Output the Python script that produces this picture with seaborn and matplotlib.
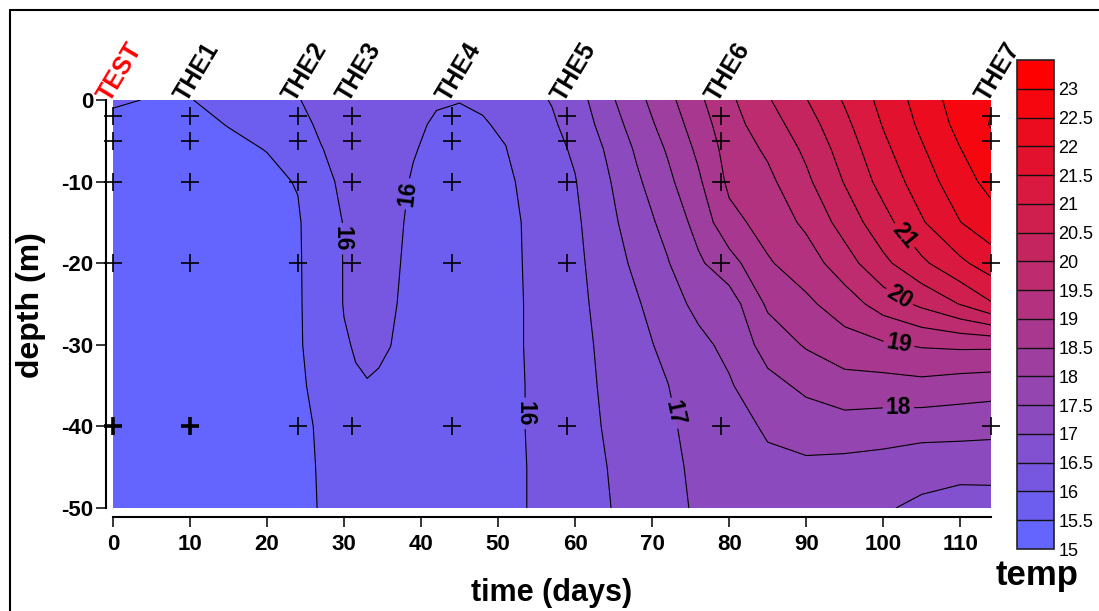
import numpy as np
import pandas as pd
import matplotlib
matplotlib.use("Agg")
import matplotlib.pyplot as plt
import seaborn as sns
from matplotlib.colors import LinearSegmentedColormap
from matplotlib.lines import Line2D

# ---------------- data ----------------
# time axis of the gridded temperature field (days)
times = [0, 5, 10, 15, 20, 24, 27, 30, 31.5, 33, 34.5, 36, 39, 42, 45, 48, 51, 54, 57, 60,
         64, 68, 72, 76, 80, 85, 90, 95, 100, 105, 110, 114]
# depth axis (m)
depths = [0, -3, -6, -10, -15, -20, -25, -30, -35, -40, -45, -50]

# temperature at each depth (one list per depth, one value per time)
temp_d0 = [15.55, 15.48, 15.49, 15.60, 15.75, 15.97, 16.20, 16.30, 16.33, 16.35, 16.28, 16.20, 16.10, 16.03, 16.01, 16.05, 16.12, 16.40, 16.52, 16.75,
           17.35, 17.85, 18.35, 18.90, 19.40, 19.95, 20.48, 21.05, 21.65, 22.20, 22.75, 22.97]
temp_d3 = [15.40, 15.40, 15.42, 15.51, 15.63, 15.85, 16.08, 16.25, 16.28, 16.30, 16.24, 16.18, 16.06, 15.96, 15.93, 15.97, 16.06, 16.33, 16.45, 16.65,
           17.20, 17.72, 18.20, 18.75, 19.30, 19.77, 20.28, 20.88, 21.53, 22.10, 22.65, 23.03]
temp_d6 = [15.38, 15.37, 15.38, 15.43, 15.51, 15.72, 15.98, 16.18, 16.22, 16.25, 16.20, 16.15, 16.02, 15.92, 15.90, 15.93, 15.99, 16.25, 16.38, 16.56,
           17.04, 17.57, 18.05, 18.60, 19.20, 19.58, 20.10, 20.72, 21.38, 21.95, 22.49, 22.85]
temp_d10 = [15.36, 15.35, 15.35, 15.38, 15.42, 15.52, 15.85, 16.10, 16.16, 16.20, 16.16, 16.12, 15.97, 15.88, 15.87, 15.90, 15.93, 16.10, 16.30, 16.48,
            16.92, 17.42, 17.88, 18.42, 19.10, 19.38, 19.90, 20.53, 21.18, 21.75, 22.30, 22.65]
temp_d15 = [15.35, 15.34, 15.34, 15.36, 15.38, 15.46, 15.75, 16.02, 16.09, 16.15, 16.13, 16.10, 15.93, 15.85, 15.85, 15.88, 15.90, 16.05, 16.25, 16.42,
            16.82, 17.27, 17.65, 18.17, 18.85, 19.18, 19.60, 20.20, 20.82, 21.45, 21.99, 22.30]
temp_d20 = [15.35, 15.34, 15.34, 15.35, 15.37, 15.46, 15.70, 16.02, 16.08, 16.12, 16.10, 16.08, 15.90, 15.83, 15.82, 15.86, 15.90, 16.04, 16.20, 16.38,
            16.75, 17.10, 17.47, 17.92, 18.30, 18.95, 19.25, 19.78, 20.38, 20.90, 21.40, 21.75]
temp_d25 = [15.35, 15.34, 15.34, 15.35, 15.37, 15.46, 15.68, 16.02, 16.07, 16.10, 16.08, 16.05, 15.88, 15.80, 15.80, 15.85, 15.90, 16.03, 16.18, 16.35,
            16.68, 16.95, 17.30, 17.62, 17.75, 18.58, 18.90, 19.25, 19.72, 20.10, 20.52, 20.95]
temp_d30 = [15.35, 15.34, 15.34, 15.35, 15.37, 15.46, 15.65, 15.96, 16.03, 16.07, 16.04, 16.005, 15.85, 15.78, 15.78, 15.84, 15.90, 16.03, 16.16, 16.32,
            16.62, 16.88, 17.10, 17.38, 17.62, 18.20, 18.55, 18.80, 18.93, 19.05, 19.10, 19.10]
temp_d35 = [15.35, 15.34, 15.34, 15.35, 15.37, 15.44, 15.60, 15.80, 15.96, 15.985, 15.97, 15.92, 15.80, 15.75, 15.75, 15.82, 15.90, 16.02, 16.15, 16.30,
            16.58, 16.82, 16.99, 17.25, 17.45, 17.85, 18.10, 18.30, 18.30, 18.35, 18.25, 18.20]
temp_d40 = [15.35, 15.34, 15.34, 15.35, 15.37, 15.40, 15.55, 15.65, 15.72, 15.80, 15.79, 15.78, 15.75, 15.72, 15.73, 15.80, 15.90, 16.02, 16.14, 16.28,
            16.54, 16.78, 16.92, 17.17, 17.35, 17.55, 17.75, 17.80, 17.75, 17.70, 17.70, 17.68]
temp_d45 = [15.35, 15.34, 15.34, 15.35, 15.37, 15.40, 15.53, 15.60, 15.65, 15.70, 15.70, 15.70, 15.72, 15.70, 15.72, 15.78, 15.90, 16.01, 16.13, 16.27,
            16.49, 16.74, 16.86, 17.12, 17.28, 17.42, 17.40, 17.35, 17.30, 17.20, 17.15, 17.12]
temp_d50 = [15.35, 15.34, 15.34, 15.35, 15.37, 15.40, 15.52, 15.60, 15.62, 15.65, 15.66, 15.68, 15.70, 15.70, 15.72, 15.78, 15.90, 16.01, 16.12, 16.25,
            16.46, 16.70, 16.82, 17.08, 17.22, 17.35, 17.30, 17.20, 17.05, 16.90, 16.80, 16.85]

# stations and sampled depths
stations = ["TEST", "THE1", "THE2", "THE3", "THE4", "THE5", "THE6", "THE7"]
station_days = [0, 10, 24, 31, 44, 59, 79, 114]
sample_depths = [-2, -5, -10, -20, -40]
# repeated casts (drawn heavier)
repeat_station = ["TEST", "THE1"]
repeat_depth = [-40, -40]

fill_levels = [15, 15.5, 16, 16.5, 17, 17.5, 18, 18.5, 19, 19.5, 20, 20.5,
               21, 21.5, 22, 22.5, 23, 23.5]
plain_levels = [15.5, 16.5, 17.5, 18.5, 19.5, 20.5, 21.5, 22, 22.5, 23]
labelled_levels = [16, 17, 18, 19, 20, 21]
cbar_ticks = [15, 15.5, 16, 16.5, 17, 17.5, 18, 18.5, 19, 19.5, 20, 20.5,
              21, 21.5, 22, 22.5, 23]
x_ticks = [0, 10, 20, 30, 40, 50, 60, 70, 80, 90, 100, 110]
y_ticks = [0, -10, -20, -30, -40, -50]

# ---------------- style ----------------
sns.set_theme(style="ticks")
plt.rcParams["font.family"] = ["Liberation Sans", "DejaVu Sans"]
plt.rcParams["font.weight"] = "bold"
plt.rcParams["axes.unicode_minus"] = False

W, H = 1099, 611
fig = plt.figure(figsize=(W / 100, H / 100), dpi=100)
fig.patch.set_facecolor("white")

def fx(px):
    return px / W

def fy(py):
    return 1 - py / H

ax = fig.add_axes([fx(113), fy(508), fx(991) - fx(113), fy(100) - fy(508)])
ax.set_facecolor("white")

Z = np.array([temp_d0, temp_d3, temp_d6, temp_d10, temp_d15, temp_d20,
              temp_d25, temp_d30, temp_d35, temp_d40, temp_d45, temp_d50])

cmap = LinearSegmentedColormap.from_list("bluered", ["#6464FF", "#FF0000"])
nb = len(fill_levels) - 1
band_colors = [cmap(i / (nb - 1)) for i in range(nb)]

cf = ax.contourf(times, depths, Z, levels=fill_levels, colors=band_colors)
ax.contour(times, depths, Z, levels=plain_levels, colors="black",
           linewidths=0.8)
cs_lab = ax.contour(times, depths, Z, levels=labelled_levels, colors="black",
                    linewidths=0.8)

label_positions = [(29.8, -17), (38.2, -11.5), (53.7, -38.4), (72.8, -38.4),
                   (102, -37.4), (102, -30.2), (102, -24.3), (102.5, -16.8)]
ax.clabel(cs_lab, manual=label_positions, fmt="%g",
          fontsize=16.5, inline=True, inline_spacing=3, colors="black")

# sample points
samples = pd.DataFrame([(d, z) for d in station_days for z in sample_depths],
                       columns=["day", "depth"])
sns.scatterplot(data=samples, x="day", y="depth", marker="+", s=170,
                color="black", linewidth=1.2, ax=ax, legend=False,
                clip_on=False, zorder=6)
rep = pd.DataFrame({"day": [station_days[stations.index(s)] for s in repeat_station],
                    "depth": repeat_depth})
sns.scatterplot(data=rep, x="day", y="depth", marker="+", s=170,
                color="black", linewidth=2.6, ax=ax, legend=False,
                clip_on=False, zorder=6)

# station names
for name, d in zip(stations, station_days):
    ax.annotate(name, xy=(d, 0), xytext=(-2.5, -2), textcoords="offset points",
                rotation=59, rotation_mode="anchor", ha="left", va="baseline",
                fontsize=18, fontweight="bold",
                color="red" if name == "TEST" else "black",
                annotation_clip=False, zorder=7)

ax.set_xlim(0, 114)
ax.set_ylim(-50, 0)
ax.set_xticks(x_ticks)
ax.set_yticks(y_ticks)
sns.despine(ax=ax, offset={"left": 5, "bottom": 6.5})
for s in ["left", "bottom"]:
    ax.spines[s].set_color("black")
    ax.spines[s].set_linewidth(1.5)
ax.tick_params(axis="both", direction="out", length=7.5, width=1.1,
               color="black", labelsize=16, labelcolor="black")
ax.tick_params(axis="y", pad=1.5)
ax.tick_params(axis="x", pad=4.5)
for lab in ax.get_xticklabels() + ax.get_yticklabels():
    lab.set_fontweight("bold")

ax.set_xlabel("time (days)", fontsize=22, fontweight="bold", color="black")
ax.set_ylabel("depth (m)", fontsize=23, fontweight="bold", color="black")
ax.xaxis.set_label_coords((552 - 113) / 878, (508 - 578) / 408)
ax.yaxis.set_label_coords((46 - 113) / 878, (508 - 305) / 408)

# colour bar
cax = fig.add_axes([fx(1017), fy(549), fx(1054) - fx(1017), fy(60) - fy(549)])
cbar = fig.colorbar(cf, cax=cax, ticks=cbar_ticks, drawedges=True)
cbar.outline.set_edgecolor("#222222")
cbar.outline.set_linewidth(1.2)
cbar.dividers.set_color("#111111")
cbar.dividers.set_linewidth(1.0)
cax.tick_params(length=0, pad=3, labelsize=13, labelcolor="black")
cax.set_yticklabels([f"{t:g}" for t in cbar_ticks], fontweight="normal")
fig.text(fx(1037), fy(585), "temp", ha="center", va="baseline",
         fontsize=25, fontweight="bold", color="black")

# outer frame (left and top edges)
fig.add_artist(Line2D([fx(10), fx(10)], [0, fy(10)], color="black", lw=1.5,
                      transform=fig.transFigure))
fig.add_artist(Line2D([fx(10), 1], [fy(10), fy(10)], color="black", lw=1.5,
                      transform=fig.transFigure))

fig.savefig("out.png", dpi=100, facecolor="white")
